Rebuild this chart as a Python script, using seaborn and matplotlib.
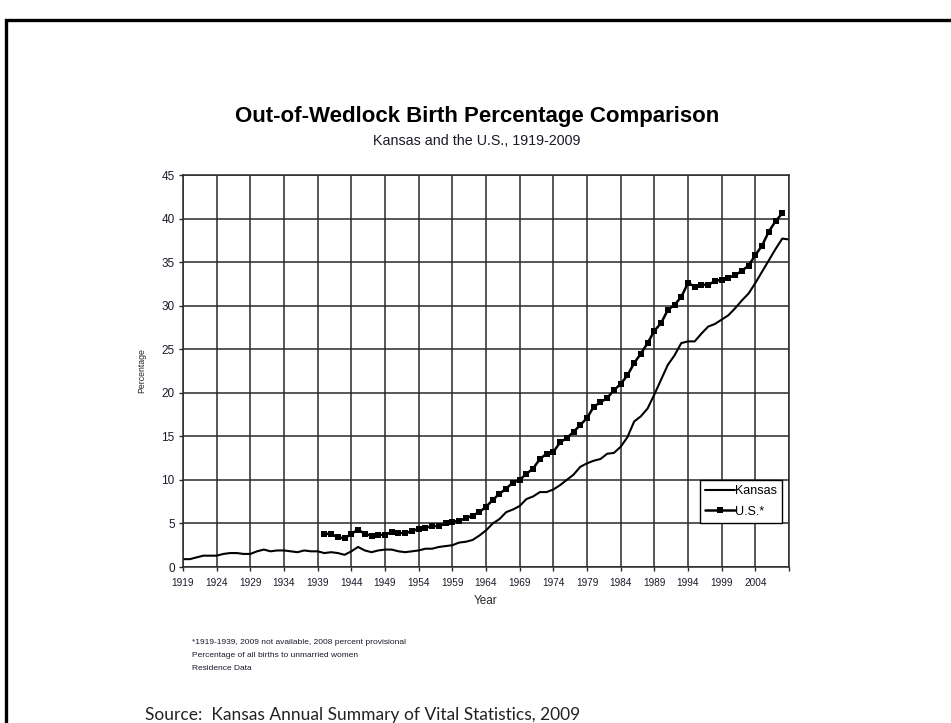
import matplotlib
matplotlib.use('Agg')
import matplotlib.pyplot as plt
import pandas as pd
import seaborn as sns
import numpy as np
from matplotlib.patches import Rectangle

title = 'Out-of-Wedlock Birth Percentage Comparison'
subtitle = 'Kansas and the U.S., 1919-2009'
notes = ['*1919-1939, 2009 not available, 2008 percent provisional',
         'Percentage of all births to unmarried women',
         'Residence Data']
source = 'Source:  Kansas Annual Summary of Vital Statistics, 2009'

kansas_years = list(range(1919, 2010))
kansas_pct = [0.9, 0.9, 1.1, 1.3, 1.3, 1.3, 1.5, 1.6, 1.6, 1.5,
              1.5, 1.8, 2.0, 1.8, 1.9, 1.9, 1.8, 1.7, 1.9, 1.8,
              1.8, 1.6, 1.7, 1.6, 1.4, 1.8, 2.3, 1.9, 1.7, 1.9,
              2.0, 2.0, 1.8, 1.7, 1.8, 1.9, 2.1, 2.1, 2.3, 2.4,
              2.5, 2.8, 2.9, 3.1, 3.6, 4.2, 5.0, 5.5, 6.3, 6.6,
              7.0, 7.8, 8.1, 8.6, 8.6, 8.9, 9.4, 10.0, 10.6, 11.5,
              11.9, 12.2, 12.4, 13.0, 13.1, 13.8, 14.9, 16.7, 17.3, 18.2,
              19.8, 21.5, 23.2, 24.3, 25.7, 25.9, 25.9, 26.8, 27.6, 27.9,
              28.4, 28.9, 29.7, 30.6, 31.4, 32.6, 33.9, 35.2, 36.5, 37.7,
              37.6]

us_years = list(range(1940, 2009))
us_pct = [3.8, 3.8, 3.4, 3.3, 3.8, 4.3, 3.8, 3.6, 3.7, 3.7,
          4.0, 3.9, 3.9, 4.1, 4.4, 4.5, 4.7, 4.7, 5.0, 5.2,
          5.3, 5.6, 5.9, 6.3, 6.9, 7.7, 8.4, 9.0, 9.7, 10.0,
          10.7, 11.3, 12.4, 13.0, 13.2, 14.3, 14.8, 15.5, 16.3, 17.1,
          18.4, 18.9, 19.4, 20.3, 21.0, 22.0, 23.4, 24.5, 25.7, 27.1,
          28.0, 29.5, 30.1, 31.0, 32.6, 32.2, 32.4, 32.4, 32.8, 33.0,
          33.2, 33.5, 34.0, 34.6, 35.8, 36.9, 38.5, 39.7, 40.6]

x_ticks = list(range(1919, 2010, 5))
x_labels = [str(y) for y in range(1919, 2005, 5)] + ['']
y_ticks = list(range(0, 46, 5))

W, H = 951, 723

if __name__ == '__main__':
    sns.set_style('white')
    plt.rcParams['font.family'] = ['Liberation Sans', 'DejaVu Sans']
    plt.rcParams['text.color'] = 'black'

    ks_df = pd.DataFrame({'year': kansas_years, 'pct': kansas_pct})
    us_df = pd.DataFrame({'year': us_years, 'pct': us_pct})

    fig = plt.figure(figsize=(W / 100, H / 100), dpi=100)
    ax = fig.add_axes([183 / W, 1 - 567 / H, (789 - 183) / W, (567 - 175) / H])

    sns.lineplot(data=ks_df, x='year', y='pct', color='black', linewidth=1.5,
                 label='Kansas', ax=ax)
    sns.lineplot(data=us_df, x='year', y='pct', color='black', linewidth=1.8,
                 marker='s', markersize=4, markeredgewidth=0, label='U.S.*', ax=ax)

    ax.set_xlim(1919, 2009)
    ax.set_ylim(0, 45)
    ax.set_xticks(x_ticks)
    ax.set_xticklabels(x_labels, fontsize=7.2, color='#1a1a2a')
    ax.set_yticks(y_ticks)
    ax.set_yticklabels([str(v) for v in y_ticks], fontsize=8.5, color='#1a1a2a')
    ax.grid(True, color='#2a2a2a', linewidth=1.1)
    ax.set_axisbelow(True)
    for s in ax.spines.values():
        s.set_color('#2a2a2a')
        s.set_linewidth(1.1)
    ax.tick_params(axis='both', direction='out', length=3, width=1,
                   color='#2a2a2a', bottom=True, left=True)
    ax.tick_params(axis='x', pad=5)
    ax.tick_params(axis='y', pad=3)
    ax.set_xlabel('Year', fontsize=8.5, labelpad=5)
    ax.set_ylabel('Percentage', fontsize=6.3, labelpad=11, color='#222222')

    leg = ax.legend(loc='upper left', bbox_to_anchor=(700 / W, 1 - 480 / H),
                    bbox_transform=fig.transFigure, borderaxespad=0,
                    fontsize=9, frameon=True, fancybox=False, handlelength=2.4,
                    handletextpad=0.0, borderpad=0.4, labelspacing=0.7)
    leg.get_frame().set_edgecolor('black')
    leg.get_frame().set_linewidth(1.0)
    leg.get_frame().set_alpha(1)

    fig.text(477 / W, 1 - 122 / H, title, ha='center', va='baseline',
             fontsize=16, fontweight='bold')
    fig.text(477 / W, 1 - 145 / H, subtitle, ha='center', va='baseline',
             fontsize=10.3, color='#1a1a2a')

    for i, line in enumerate(notes):
        fig.text(192 / W, 1 - (642 + i * 13.5) / H, line, ha='left', va='center',
                 fontsize=6.0, color='#1a1a2a')

    fig.text(145 / W, 1 - 720 / H, source, ha='left', va='baseline', fontsize=12.5,
             family=['Lato', 'DejaVu Sans'], color='#222222')

    fig.patches.append(Rectangle((6 / W, -0.1), 1.2, 1 - 20 / H + 0.1,
                                 transform=fig.transFigure, fill=False,
                                 edgecolor='black', linewidth=2.4))

    plt.savefig('out.png', dpi=100)
